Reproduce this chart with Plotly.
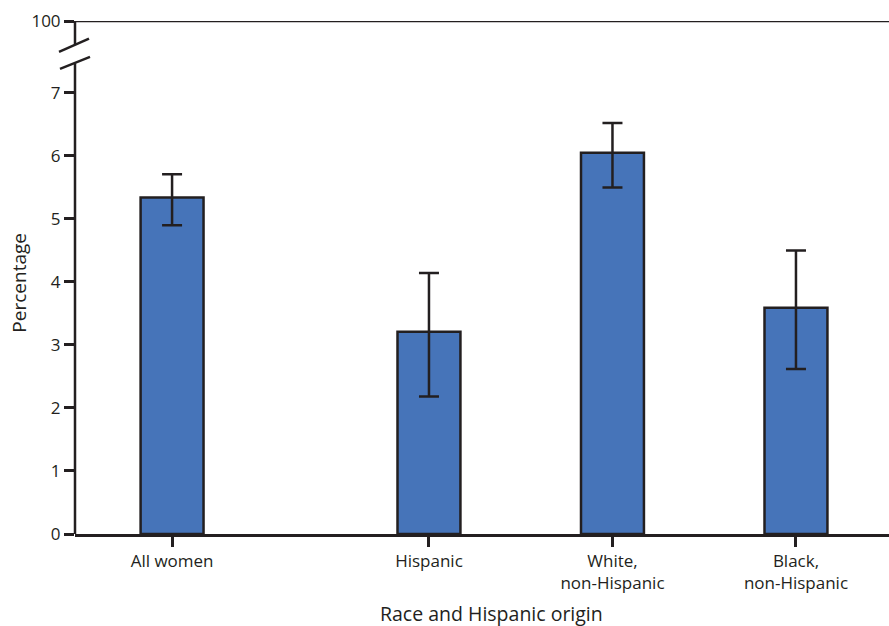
import plotly.graph_objects as go

categories = ["All women", "Hispanic", "White,<br>non-Hispanic", "Black,<br>non-Hispanic"]
values = [5.34, 3.21, 6.05, 3.59]
ci_upper = [5.71, 4.14, 6.52, 4.50]
ci_lower = [4.90, 2.18, 5.50, 2.62]
y_tick_vals = [0, 1, 2, 3, 4, 5, 6, 7]
y_tick_text = ["0", "1", "2", "3", "4", "5", "6", "7"]
top_label = "100"
x_title = "Race and Hispanic origin"
y_title = "Percentage"

# layout positions (not data)
x_pos = [1, 2.4, 3.4, 4.4]
Y_TOP = 8.14  # axis position of the "100" tick after the break
BRK_LO, BRK_HI = 7.47, 7.77

ink = "#231F20"
bar_color = "#4674B9"
font_family = "Open Sans, Lato, Arial, sans-serif"

err_plus = [u - v for u, v in zip(ci_upper, values)]
err_minus = [v - l for v, l in zip(values, ci_lower)]

fig = go.Figure()
fig.add_trace(go.Bar(
    x=x_pos, y=values, width=0.343,
    marker=dict(color=bar_color, line=dict(color=ink, width=2.5)),
    error_y=dict(type="data", symmetric=False, array=err_plus, arrayminus=err_minus,
                 color=ink, thickness=2.5, width=10),
    showlegend=False, hoverinfo="skip",
))

shapes = [
    dict(type="line", xref="paper", yref="y", x0=0, x1=0, y0=0, y1=BRK_LO,
         line=dict(color=ink, width=2.5)),
    dict(type="line", xref="paper", yref="y", x0=0, x1=0, y0=BRK_HI, y1=Y_TOP,
         line=dict(color=ink, width=2.5)),
    dict(type="line", xref="paper", yref="y", x0=0, x1=1, y0=Y_TOP, y1=Y_TOP,
         line=dict(color=ink, width=2.5)),
    dict(type="line", xref="paper", yref="y", xsizemode="pixel", xanchor=0,
         x0=-16, x1=14, y0=7.65, y1=7.86, line=dict(color=ink, width=2.5)),
    dict(type="line", xref="paper", yref="y", xsizemode="pixel", xanchor=0,
         x0=-15, x1=15, y0=7.38, y1=7.57, line=dict(color=ink, width=2.5)),
]

annotations = [
    dict(text=x_title, xref="paper", yref="paper", x=0.512, y=0, yshift=-79,
         xanchor="center", yanchor="middle", showarrow=False,
         font=dict(size=19.5, color=ink)),
    dict(text=y_title, xref="paper", yref="paper", x=0, xshift=-56, y=0.49,
         xanchor="center", yanchor="middle", textangle=-90, showarrow=False,
         font=dict(size=19, color=ink)),
]

fig.update_layout(
    width=889, height=626,
    margin=dict(l=75, r=0, t=21, b=92),
    paper_bgcolor="white", plot_bgcolor="white",
    font=dict(family=font_family, color=ink),
    shapes=shapes, annotations=annotations,
    xaxis=dict(
        range=[0.471, 4.907], tickmode="array", tickvals=x_pos, ticktext=categories,
        showline=True, linecolor=ink, linewidth=2.5,
        ticks="outside", ticklen=10, tickwidth=2.5, tickcolor=ink,
        tickfont=dict(size=17, color=ink), showgrid=False, zeroline=False,
        automargin=False,
    ),
    yaxis=dict(
        range=[0, Y_TOP], tickmode="array",
        tickvals=y_tick_vals + [Y_TOP], ticktext=y_tick_text + [top_label],
        showline=False, ticks="outside", ticklen=10, tickwidth=2.5, tickcolor=ink,
        tickfont=dict(size=17, color=ink), showgrid=False, zeroline=False,
        automargin=False,
    ),
)

fig.write_html("out.html", config={"displayModeBar": False},
               post_script="document.body.style.margin='0px';")
